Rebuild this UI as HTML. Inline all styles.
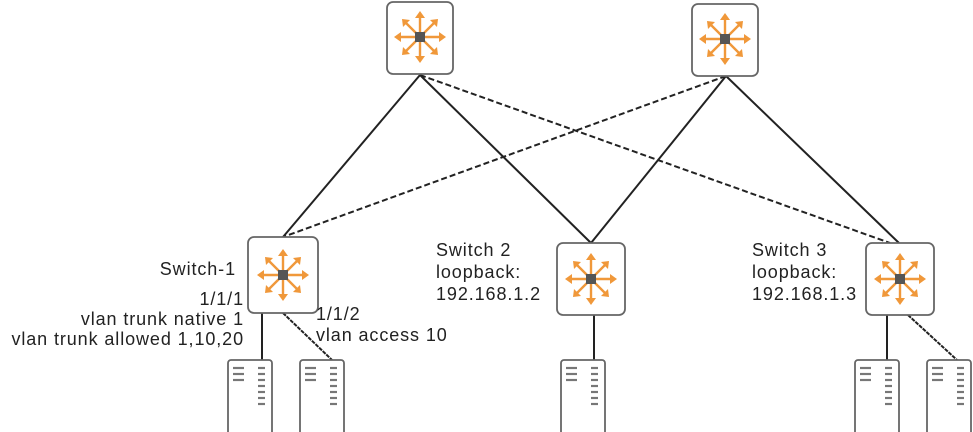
<!DOCTYPE html>
<html><head><style>
body{margin:0;background:#fff;}
svg{display:block;}
text{font-family:"Liberation Sans",sans-serif;font-size:18px;letter-spacing:0.9px;fill:#222;}
</style></head><body>
<svg width="973" height="432" viewBox="0 0 973 432" xmlns="http://www.w3.org/2000/svg">
<defs>
<g id="ic">
<g stroke="#f0983a" stroke-width="2.4" fill="none">
<line x1="-24" y1="0" x2="24" y2="0"/><line x1="0" y1="-24" x2="0" y2="24"/>
<line x1="-16" y1="-16" x2="16" y2="16"/><line x1="16" y1="-16" x2="-16" y2="16"/>
</g>
<g fill="#f0983a">
<path d="M-26 0 L-19 -5 L-19 5Z"/><path d="M26 0 L19 -5 L19 5Z"/>
<path d="M0 -26 L-5 -19 L5 -19Z"/><path d="M0 26 L-5 19 L5 19Z"/>
<path d="M-18 -18 L-17 -10 L-10 -17Z"/><path d="M18 -18 L17 -10 L10 -17Z"/>
<path d="M-18 18 L-17 10 L-10 17Z"/><path d="M18 18 L17 10 L10 17Z"/>
</g>
<rect x="-5" y="-5" width="10" height="10" fill="#555"/>
</g>
<g id="srv">
<rect x="0" y="0" width="44" height="80" rx="3" fill="#fff" stroke="#666" stroke-width="1.8"/>
<g stroke="#777" stroke-width="2.2">
<line x1="5" y1="8" x2="16" y2="8"/><line x1="5" y1="14" x2="16" y2="14"/><line x1="5" y1="20" x2="16" y2="20"/>
<line x1="30" y1="8" x2="37" y2="8"/><line x1="30" y1="14" x2="37" y2="14"/><line x1="30" y1="20" x2="37" y2="20"/>
<line x1="30" y1="26" x2="37" y2="26"/><line x1="30" y1="32" x2="37" y2="32"/><line x1="30" y1="38" x2="37" y2="38"/><line x1="30" y1="44" x2="37" y2="44"/>
</g>
</g>
</defs>
<g stroke="#222" stroke-width="2" fill="none">
<line x1="420" y1="75" x2="283" y2="237"/>
<line x1="420" y1="75" x2="591" y2="243"/>
<line x1="420" y1="75" x2="890" y2="243" stroke-dasharray="6,3"/>
<line x1="726" y1="76" x2="283" y2="237" stroke-dasharray="6,3"/>
<line x1="726" y1="76" x2="591" y2="243"/>
<line x1="726" y1="76" x2="899" y2="243"/>
<line x1="262" y1="313" x2="262" y2="360"/>
<line x1="283" y1="313" x2="332" y2="360" stroke-dasharray="4,1"/>
<line x1="594" y1="315" x2="594" y2="360"/>
<line x1="887" y1="315" x2="887" y2="360"/>
<line x1="908" y1="315" x2="957" y2="360" stroke-dasharray="4,1"/>
</g>
<g fill="#fff" stroke="#666" stroke-width="1.8">
<rect x="387" y="2" width="66" height="72" rx="6"/>
<rect x="692" y="4" width="66" height="72" rx="6"/>
<rect x="248" y="237" width="70" height="76" rx="6"/>
<rect x="557" y="243" width="68" height="72" rx="6"/>
<rect x="866" y="243" width="68" height="72" rx="6"/>
</g>
<use href="#ic" x="420" y="37"/>
<use href="#ic" x="725" y="39"/>
<use href="#ic" x="283" y="275"/>
<use href="#ic" x="591" y="279"/>
<use href="#ic" x="900" y="279"/>
<use href="#srv" x="228" y="360"/>
<use href="#srv" x="300" y="360"/>
<use href="#srv" x="561" y="360"/>
<use href="#srv" x="855" y="360"/>
<use href="#srv" x="927" y="360"/>
<text x="236" y="275" text-anchor="end">Switch-1</text>
<text x="244" y="305" text-anchor="end">1/1/1</text>
<text x="244" y="325" text-anchor="end">vlan trunk native 1</text>
<text x="244" y="345" text-anchor="end">vlan trunk allowed 1,10,20</text>
<text x="316" y="320">1/1/2</text>
<text x="316" y="341">vlan access 10</text>
<text x="436" y="256">Switch 2</text>
<text x="436" y="278">loopback:</text>
<text x="436" y="300">192.168.1.2</text>
<text x="752" y="256">Switch 3</text>
<text x="752" y="278">loopback:</text>
<text x="752" y="300">192.168.1.3</text>
</svg>
</body></html>
